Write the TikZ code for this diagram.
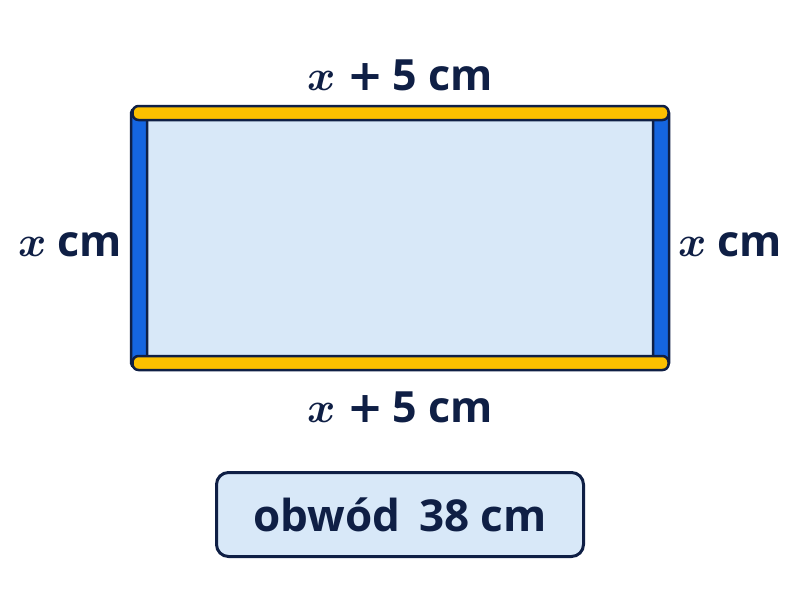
\RequirePackage{fix-cm}
\documentclass[tikz,border=0pt]{standalone}
\usepackage{fontspec}
\setmainfont{Open Sans}
\newfontfamily\plusfont{DejaVu Sans}
\definecolor{navy}{HTML}{0F1F45}
\definecolor{barY}{HTML}{FCC000}
\definecolor{barB}{HTML}{1565E0}
\definecolor{fillL}{HTML}{D8E8F8}
\newcommand{\bplus}{\hspace{0.28em}{\plusfont\bfseries +}\hspace{0.22em}}
\tikzset{
  lbl/.style={text=navy, font=\fontsize{43}{48}\selectfont\bfseries\boldmath, inner sep=0pt},
  sidebar/.style={fill=barB, draw=navy, line width=2.5pt, rounded corners=4pt},
  topbar/.style={fill=barY, draw=navy, line width=2.5pt, rounded corners=6pt},
}
\begin{document}
\begin{tikzpicture}[x=1pt,y=-1pt]
\useasboundingbox[fill=white] (0,0) rectangle (800,600);
% interior
\node[fill=fillL, draw=navy, line width=2.5pt, minimum width=506pt, minimum height=238pt, inner sep=0pt] (inner) at (400,238) {};
% side bars
\node[sidebar, minimum width=16pt, minimum height=258pt, inner sep=0pt] (left) at (139,238) {};
\node[sidebar, minimum width=16pt, minimum height=258pt, inner sep=0pt] (right) at (661,238) {};
% top and bottom bars
\node[topbar, minimum width=536pt, minimum height=14pt, inner sep=0pt] (top) at (400.5,113) {};
\node[topbar, minimum width=536pt, minimum height=14pt, inner sep=0pt] (bottom) at (400.5,363) {};
% labels
\node[lbl] (ltop) at (400,75) {$x$\bplus 5 cm};
\node[lbl] (lbot) at (400,407) {$x$\bplus 5 cm};
\node[lbl] (lleft) at (70,245) {$x$ cm};
\node[lbl] (lright) at (730,245) {$x$ cm};
% perimeter box
\node[fill=fillL, draw=navy, line width=3pt, rounded corners=12pt, minimum width=367pt, minimum height=84pt, text=navy, font=\fontsize{44}{48}\selectfont\bfseries] (obw) at (400,514.5) {obwód\, 38 cm};
\end{tikzpicture}
\end{document}
